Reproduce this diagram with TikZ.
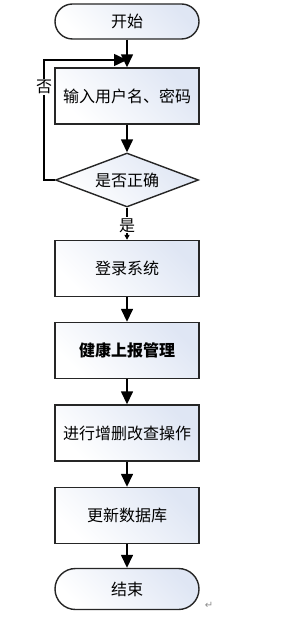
\documentclass[tikz,border=0pt]{standalone}
\usepackage{fontspec}
\newfontfamily\cjk{Noto Sans CJK SC}
\newfontfamily\dejavu{DejaVu Sans}
\usetikzlibrary{arrows.meta,shapes.geometric}
\definecolor{shadeblue}{HTML}{DFE6F4}
\tikzset{
  box/.style={draw=black!85, line width=1.4pt, minimum width=144pt, inner sep=0pt,
    top color=shadeblue, bottom color=white, shading angle=-45, font=\cjk\fontsize{16}{16}\selectfont},
  procbox/.style={box, rectangle, minimum height=56pt},
  termbox/.style={box, rectangle, rounded corners=#1, minimum height=2*#1},
  decbox/.style={box, diamond, aspect=2.65, minimum width=143pt, minimum height=54pt},
  arr/.style={line width=1.5pt, -{Triangle[length=13pt,width=12pt]}},
  lbl/.style={font=\cjk\fontsize{16}{16}\selectfont, fill=white, inner sep=1pt},
}
\begin{document}
\begin{tikzpicture}[x=1pt,y=-1pt]
\useasboundingbox (0,0) rectangle (293,617);
\node[termbox=17.5pt] (start) at (127,21.5) {开始};
\node[procbox] (input) at (127,96) {输入用户名、密码};
\node[decbox] (check) at (127,180) {是否正确};
\node[procbox] (login) at (127,268.5) {登录系统};
\node[procbox] (health) at (127,350.5) {\bfseries 健康上报管理};
\node[procbox] (crud) at (127,433) {进行增删改查操作};
\node[procbox] (update) at (127,515.5) {更新数据库};
\node[termbox=20.5pt] (end) at (127,589) {结束};
\coordinate (fbl) at (44,180);
\coordinate (fbt) at (44,60);
\coordinate (fbin) at (127,60);
\draw[arr] (start) -- (input);
\draw[arr] (input) -- (check);
\draw[line width=1.2pt, -{Triangle[length=5pt,width=5pt]}] (check.south) -- (login.north)
  node[lbl, pos=0.55] (yes) {是};
\draw[arr] (check.west) -- (fbl) -- (fbt) -- (fbin);
\node[lbl] (no) at (44,87) {否};
\draw[arr] (login) -- (health);
\draw[arr] (health) -- (crud);
\draw[arr] (crud) -- (update);
\draw[arr] (update) -- (end);
\node[font=\dejavu\fontsize{10}{10}\selectfont, text=black!45] (ret) at (209,605) {↵};
\end{tikzpicture}
\end{document}
